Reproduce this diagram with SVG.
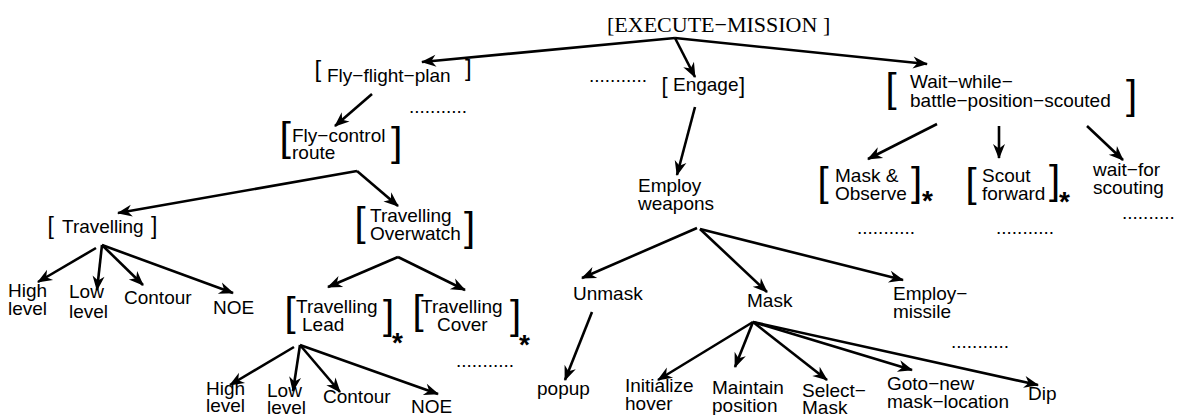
<svg xmlns="http://www.w3.org/2000/svg" width="1177" height="415" viewBox="0 0 1177 415">
<style>
.t{font-family:"Liberation Sans",Arial,sans-serif;font-size:19px;fill:#000}
.br{font-family:"Liberation Sans",Arial,sans-serif;fill:#000}
.tall{font-size:40px}
.sm{font-size:23px}
.ast{font-family:"Liberation Sans",Arial,sans-serif;font-size:28px;font-weight:bold;fill:#000}
.dots{font-family:"Liberation Sans",Arial,sans-serif;font-size:19px;fill:#000}
.root{font-family:"Liberation Serif","Times New Roman",serif;font-size:22px;fill:#000}
.c path{fill:none;stroke:#000;stroke-width:2.6;marker-end:url(#ah)}
</style>
<defs>
<marker id="ah" markerUnits="userSpaceOnUse" viewBox="-15 -7 17 14" markerWidth="17" markerHeight="14" refX="0" refY="0" orient="auto" overflow="visible">
<path d="M1,0 L-14,-6 L-9.5,0 L-14,6 Z" fill="#000"/>
</marker>
</defs>
<rect width="1177" height="415" fill="#fff"/>

<g id="connectors" class="c">
<path d="M675,38 L422,62"/>
<path d="M675,38 L695,77"/>
<path d="M675,38 L927,64"/>
<path d="M372,94 L335,126"/>
<path d="M695,107 L677,175"/>
<path d="M357,171 L118,213"/>
<path d="M357,171 L398,206"/>
<path d="M96,248 L38,282"/>
<path d="M102,245 L97,290"/>
<path d="M102,245 L143,285"/>
<path d="M102,245 L233,293"/>
<path d="M398,257 L328,287"/>
<path d="M398,257 L465,290"/>
<path d="M294,347 L230,385"/>
<path d="M300,345 L293,391"/>
<path d="M300,345 L340,392"/>
<path d="M300,345 L438,394"/>
<path d="M937,124 L868,159"/>
<path d="M999,126 L999,158"/>
<path d="M1087,126 L1123,160"/>
<path d="M697,228 L582,278"/>
<path d="M700,229 L767,292"/>
<path d="M700,229 L903,280"/>
<path d="M592,312 L565,380"/>
<path d="M753,322 L658,380"/>
<path d="M753,322 L735,367"/>
<path d="M753,322 L827,380"/>
<path d="M753,322 L912,370"/>
<path d="M753,322 L1038,385"/>
</g>

<g id="execute-mission"><text class="root" x="607" y="32">[EXECUTE−MISSION ]</text></g>

<g id="fly-flight-plan">
<text class="br" font-size="24" x="314.5" y="77">[</text>
<text class="t" x="327" y="82">Fly−flight−plan</text>
<text class="br" font-size="24" x="465" y="76">]</text>
</g>

<g id="engage">
<text class="br" font-size="22" x="661.6" y="93">[</text>
<text class="t" x="673" y="91">Engage</text>
<text class="br" font-size="22" x="739" y="93">]</text>
</g>

<g id="wait-while">
<text class="br tall" x="885.5" y="101.6">[</text>
<text class="t" x="910" y="88">Wait−while−</text>
<text class="t" x="910" y="107">battle−position−scouted</text>
<text class="br tall" x="1126" y="108.6">]</text>
</g>

<g id="fly-control-route">
<text class="br" font-size="41" x="279.4" y="151.4">[</text>
<text class="t" x="292" y="142">Fly−control</text>
<text class="t" x="292" y="159">route</text>
<text class="br" font-size="41" x="391" y="156">]</text>
</g>

<g id="employ-weapons">
<text class="t" x="638" y="192">Employ</text>
<text class="t" x="638" y="210">weapons</text>
</g>

<g id="mask-observe">
<text class="br tall" x="817.5" y="195.6">[</text>
<text class="t" x="835" y="182">Mask &amp;</text>
<text class="t" x="835" y="200">Observe</text>
<text class="br tall" x="911" y="195.6">]</text>
<text class="ast" x="922" y="210">*</text>
</g>

<g id="scout-forward">
<text class="br tall" x="965.5" y="196.6">[</text>
<text class="t" x="982" y="182">Scout</text>
<text class="t" x="982" y="200">forward</text>
<text class="br tall" x="1049" y="193.6">]</text>
<text class="ast" x="1059" y="211">*</text>
</g>

<g id="wait-for-scouting">
<text class="t" x="1093" y="176">wait−for</text>
<text class="t" x="1093" y="194">scouting</text>
</g>

<g id="travelling">
<text class="br sm" x="47.6" y="233.5">[</text>
<text class="t" x="62" y="233">Travelling</text>
<text class="br sm" x="151" y="233.5">]</text>
</g>

<g id="travelling-overwatch">
<text class="br tall" x="354.5" y="235.6">[</text>
<text class="t" x="370" y="222">Travelling</text>
<text class="t" x="370" y="240">Overwatch</text>
<text class="br tall" x="464" y="240.6">]</text>
</g>

<g id="t-high"><text class="t" x="8" y="297">High</text><text class="t" x="8" y="315">level</text></g>
<g id="t-low"><text class="t" x="69" y="298">Low</text><text class="t" x="69" y="318">level</text></g>
<g id="t-contour"><text class="t" x="124" y="304">Contour</text></g>
<g id="t-noe"><text class="t" x="213" y="314">NOE</text></g>

<g id="travelling-lead">
<text class="br tall" x="284.5" y="325.6">[</text>
<text class="t" x="296" y="313">Travelling</text>
<text class="t" x="302" y="331">Lead</text>
<text class="br tall" x="383" y="328.6">]</text>
<text class="ast" x="392" y="352">*</text>
</g>

<g id="travelling-cover">
<text class="br tall" x="412.5" y="323.6">[</text>
<text class="t" x="421" y="313">Travelling</text>
<text class="t" x="437" y="331">Cover</text>
<text class="br tall" x="510" y="328.6">]</text>
<text class="ast" x="519" y="354">*</text>
</g>

<g id="l-high"><text class="t" x="206" y="395">High</text><text class="t" x="206" y="412">level</text></g>
<g id="l-low"><text class="t" x="267" y="397">Low</text><text class="t" x="267" y="414">level</text></g>
<g id="l-contour"><text class="t" x="323" y="403">Contour</text></g>
<g id="l-noe"><text class="t" x="411" y="413">NOE</text></g>

<g id="unmask"><text class="t" x="573" y="300">Unmask</text></g>
<g id="mask"><text class="t" x="747" y="307">Mask</text></g>
<g id="employ-missile"><text class="t" x="893" y="300">Employ−</text><text class="t" x="893" y="318">missile</text></g>
<g id="popup"><text class="t" x="537" y="395">popup</text></g>
<g id="initialize-hover"><text class="t" x="625" y="392">Initialize</text><text class="t" x="625" y="410">hover</text></g>
<g id="maintain-position"><text class="t" x="712" y="394">Maintain</text><text class="t" x="712" y="412">position</text></g>
<g id="select-mask"><text class="t" x="802" y="397">Select−</text><text class="t" x="802" y="414">Mask</text></g>
<g id="goto-new"><text class="t" x="887" y="390">Goto−new</text><text class="t" x="887" y="408">mask−location</text></g>
<g id="dip"><text class="t" x="1028" y="400">Dip</text></g>

<g id="ellipses">
<text class="dots" x="589" y="82">...........</text>
<text class="dots" x="409" y="113">...........</text>
<text class="dots" x="857" y="234">...........</text>
<text class="dots" x="996" y="234">...........</text>
<text class="dots" x="1122" y="219">..........</text>
<text class="dots" x="456" y="367">...........</text>
<text class="dots" x="951" y="348">...........</text>
</g>
</svg>
